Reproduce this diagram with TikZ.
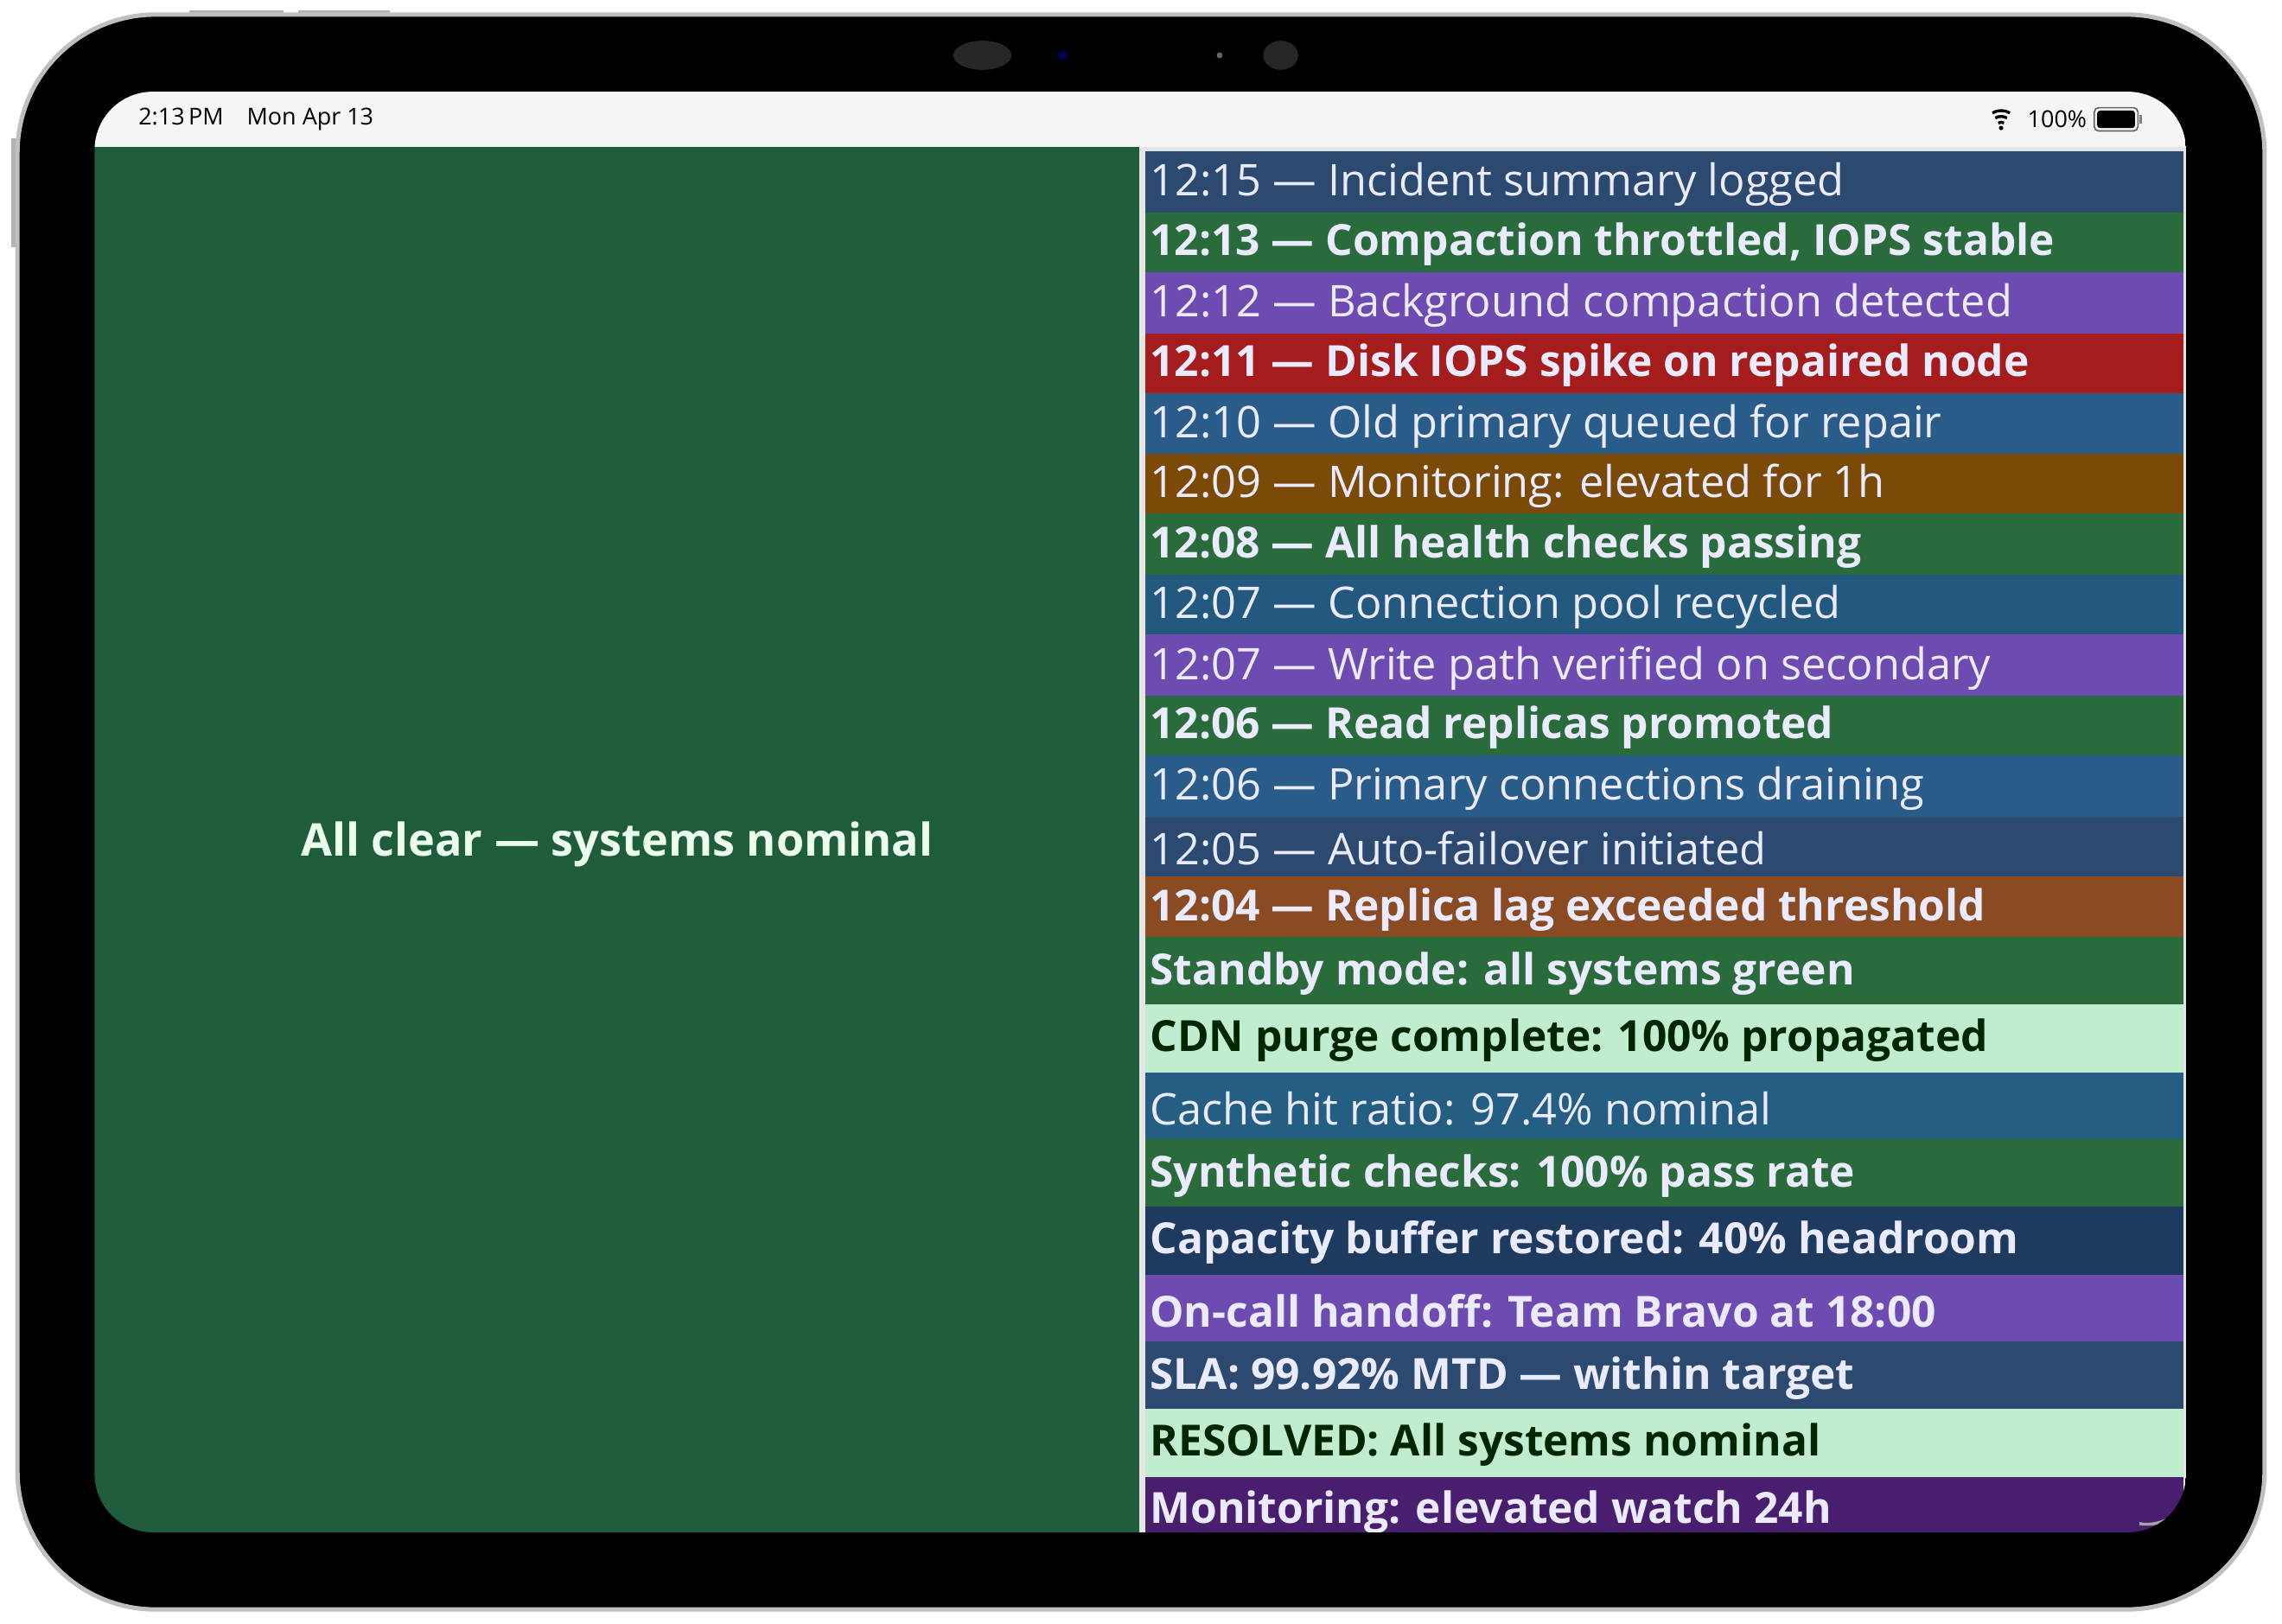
\documentclass[tikz,border=0pt]{standalone}
\usepackage{fontspec}
\setmainfont{Open Sans}
\begin{document}
\begin{tikzpicture}[x=1pt,y=-1pt,
  row/.style={anchor=west,inner sep=0pt,font=\fontsize{30}{32}\selectfont},
  wt/.style={text=white!92!blue},
  dk/.style={text=black!85!green},
  bd/.style={font=\fontsize{29.5}{32}\selectfont\bfseries}]
\definecolor{navy}{HTML}{2C4A70}
\definecolor{grn}{HTML}{2A6B3C}
\definecolor{purp}{HTML}{6E4BB0}
\definecolor{red}{HTML}{A51C1C}
\definecolor{blu}{HTML}{2A5C8A}
\definecolor{brn}{HTML}{7A4A06}
\definecolor{teal}{HTML}{23597E}
\definecolor{rust}{HTML}{8A4A22}
\definecolor{mint}{HTML}{C0ECD0}
\definecolor{cblu}{HTML}{245E82}
\definecolor{dnav}{HTML}{1E3A5F}
\definecolor{dpur}{HTML}{4A1E6E}
\definecolor{panel}{HTML}{1F5C3B}
\useasboundingbox (0,0) rectangle (1568,1116);
\fill[white] (0,0) rectangle (1568,1116);
% buttons
\fill[gray!60] (130,7) rectangle (195,11);
\fill[gray!60] (205,7) rectangle (268,11);
\fill[gray!60] (8,95) rectangle (12,170);
% body
\draw[gray!50,line width=3pt,fill=black,rounded corners=95pt] (12,10) rectangle (1556,1106);
\fill[black!85] (675,38) ellipse (20 and 10);
\fill[black!85] (880,38) ellipse (12 and 10);
\fill[blue!40!black] (730,38) circle (3);
\fill[black!60] (838,38) circle (2);
% screen
\begin{scope}
\clip[rounded corners=40pt] (65,63) rectangle (1502,1053);
\fill[black!4] (65,63) rectangle (1502,101);
\fill[panel] (65,101) rectangle (783,1053);
\fill[white!90!black] (783,101) rectangle (787,1053);
\fill[white!90!black] (787,101) rectangle (1502,104);
\fill[white!90!black] (1500,101) rectangle (1502,1053);
\foreach \c/\a/\b in {navy/104/146, grn/146/187, purp/187/229, red/229/270, blu/270/312, brn/312/353, grn/353/395, teal/395/436, purp/436/478, grn/478/519, blu/519/561, navy/561/602, rust/602/644, grn/644/690, mint/690/737, cblu/737/783, grn/783/829, dnav/829/876, purp/876/922, navy/922/968, mint/968/1015, dpur/1015/1053}
  \fill[\c] (787,\a) rectangle (1500,\b);
\node[row,wt] (r1) at (790,127) {12:15 — Incident summary logged};
\node[row,wt,bd] (r2) at (790,168) {12:13 — Compaction throttled, IOPS stable};
\node[row,wt] (r3) at (790,210) {12:12 — Background compaction detected};
\node[row,wt,bd] (r4) at (790,251) {12:11 — Disk IOPS spike on repaired node};
\node[row,wt] (r5) at (790,293) {12:10 — Old primary queued for repair};
\node[row,wt] (r6) at (790,334) {12:09 — Monitoring: elevated for 1h};
\node[row,wt,bd] (r7) at (790,376) {12:08 — All health checks passing};
\node[row,wt] (r8) at (790,417) {12:07 — Connection pool recycled};
\node[row,wt] (r9) at (790,459) {12:07 — Write path verified on secondary};
\node[row,wt,bd] (r10) at (790,500) {12:06 — Read replicas promoted};
\node[row,wt] (r11) at (790,542) {12:06 — Primary connections draining};
\node[row,wt] (r12) at (790,583) {12:05 — Auto-failover initiated};
\node[row,wt,bd] (r13) at (790,625) {12:04 — Replica lag exceeded threshold};
\node[row,wt,bd] (r14) at (790,669) {Standby mode: all systems green};
\node[row,dk,bd] (r15) at (790,715) {CDN purge complete: 100\% propagated};
\node[row,wt] (r16) at (790,762) {Cache hit ratio: 97.4\% nominal};
\node[row,wt,bd] (r17) at (790,808) {Synthetic checks: 100\% pass rate};
\node[row,wt,bd] (r18) at (790,854) {Capacity buffer restored: 40\% headroom};
\node[row,wt,bd] (r19) at (790,901) {On-call handoff: Team Bravo at 18:00};
\node[row,wt,bd] (r20) at (790,947) {SLA: 99.92\% MTD — within target};
\node[row,dk,bd] (r21) at (790,993) {RESOLVED: All systems nominal};
\node[row,wt,bd] (r22) at (790,1039) {Monitoring: elevated watch 24h};
\draw[gray!70,line width=2pt] (1470,1047) arc (100:10:30);
\end{scope}
\node[anchor=west,inner sep=0pt,font=\fontsize{16}{18}\selectfont] (time) at (95,82) {2:13\,PM\quad Mon Apr 13};
\node[anchor=east,inner sep=0pt,font=\fontsize{16}{18}\selectfont] (pct) at (1434,82) {100\%};
\foreach \r in {4,8,12} \draw[line width=2pt] (1375,88) ++(240:\r) arc (240:300:\r);
\fill (1375,88) circle (1.5);
\draw[black!60,rounded corners=3pt,line width=1pt] (1439,74) rectangle (1469,90);
\fill[rounded corners=2pt] (1441,76) rectangle (1467,88);
\fill[black!50] (1470,79) rectangle (1472,85);
\node[font=\fontsize{31}{33}\selectfont\bfseries,text=white!92!green] (msg) at (424,580) {All clear — systems nominal};
\end{tikzpicture}
\end{document}
